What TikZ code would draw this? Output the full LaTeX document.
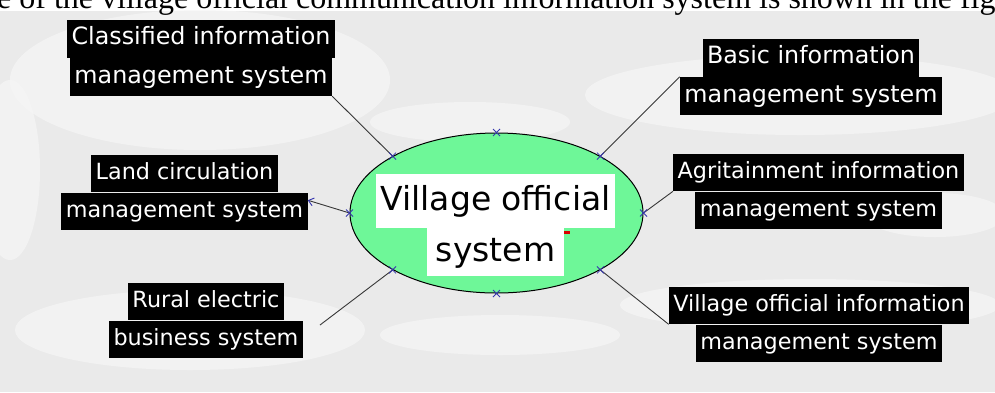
\documentclass[tikz,border=0pt]{standalone}
\usepackage{fontspec}
\setmainfont{Liberation Serif}
\newfontfamily\tagfont{DejaVu Sans}
\usetikzlibrary{positioning,shapes.geometric,arrows.meta}

\definecolor{hubgreen}{RGB}{110,247,152}
\definecolor{skygray}{RGB}{234,234,234}
\definecolor{cloudwhite}{RGB}{246,246,246}
\definecolor{xblue}{RGB}{55,55,175}
\definecolor{wire}{RGB}{55,55,55}

\begin{document}
\begin{tikzpicture}[x=1pt,y=-1pt,
  tag/.style={fill=black,text=white,font=\tagfont\fontsize{22.3}{26}\selectfont,
    inner xsep=4.5pt,inner ysep=0pt,text height=17pt,text depth=5pt,minimum height=37pt},
  bigtag/.style={tag,font=\tagfont\fontsize{23.8}{28}\selectfont,minimum height=38pt},
  hub/.style={ellipse,draw=black,line width=1pt,fill=hubgreen,inner sep=0pt,
    minimum width=293pt,minimum height=160pt},
  hubtag/.style={fill=white,text=black,font=\tagfont\fontsize{33}{40}\selectfont,
    inner xsep=4pt,inner ysep=0pt,text height=25pt,text depth=7pt,minimum height=54pt},
  wire/.style={draw=wire,line width=0.9pt},
  xmark/.style={draw=xblue,line width=0.8pt},
  cloud/.style={fill=cloudwhite,opacity=0.75}]

  \useasboundingbox (0,0) rectangle (995,392);
  \clip (0,0) rectangle (995,392);

  % backdrop
  \fill[white] (0,0) rectangle (995,392);
  \fill[skygray] (0,11) rectangle (995,392);
  \fill[cloud] (200,80) ellipse (190 and 70);
  \fill[cloud] (10,170) ellipse (30 and 90);
  \fill[cloud] (800,95) ellipse (215 and 40);
  \fill[cloud] (470,122) ellipse (100 and 20);
  \fill[cloud] (190,330) ellipse (175 and 40);
  \fill[cloud] (810,305) ellipse (190 and 26);
  \fill[cloud] (500,335) ellipse (120 and 20);
  \fill[cloud] (935,215) ellipse (70 and 22);

  % cut-off caption line
  \node[anchor=base west,inner sep=0pt,font=\fontsize{32}{38}\selectfont] (caption) at (-3,8)
    {e of the village official communication information system is shown in the fig};

  % centre
  \node[hub] (hub) at (496.5,213) {};
  \node[hubtag] (hubtop) at (495.5,201) {Village official};
  \node[hubtag,inner xsep=9pt,minimum height=48pt,below=0pt of hubtop] (hubbot) {system};
  \fill[red!85!black] (564,231) rectangle (570,233.5);

  % left side
  \node[bigtag] (cls) at (201,77) {management system};
  \node[bigtag,above=0pt of cls] (clstop) {Classified information};
  \node[tag] (land) at (184.5,211) {management system};
  \node[tag,above=0pt of land] (landtop) {Land circulation};
  \node[tag] (rural) at (206,339) {business system};
  \node[tag,above=0pt of rural] (ruraltop) {Rural electric};
  \coordinate (ruralend) at (320,325);

  % right side
  \node[bigtag] (basic) at (811,96) {management system};
  \node[bigtag,above=0pt of basic] (basictop) {Basic information};
  \node[tag] (agri) at (818.5,210) {management system};
  \node[tag,above=0pt of agri] (agritop) {Agritainment information};
  \node[tag] (vil) at (819,343) {management system};
  \node[tag,above=0pt of vil] (viltop) {Village official information};

  % connectors
  \draw[wire] (hub.north west) -- (cls.south east);
  \draw[wire,-{Straight Barb[length=5pt,width=8pt,color=xblue]}] (hub.west) -- (land.5);
  \draw[wire] (hub.south west) -- (ruralend);
  \draw[wire] (hub.north east) -- (basic.north west);
  \draw[wire] (hub.east) -- (agritop.south west);
  \draw[wire] (hub.south east) -- (viltop.south west);

  \foreach \a in {north,south,east,west,north east,north west,south east,south west}
    \draw[xmark] (hub.\a) ++(-3.5,-3.5) -- ++(7,7) ++(-7,0) -- ++(7,-7);
\end{tikzpicture}
\end{document}
